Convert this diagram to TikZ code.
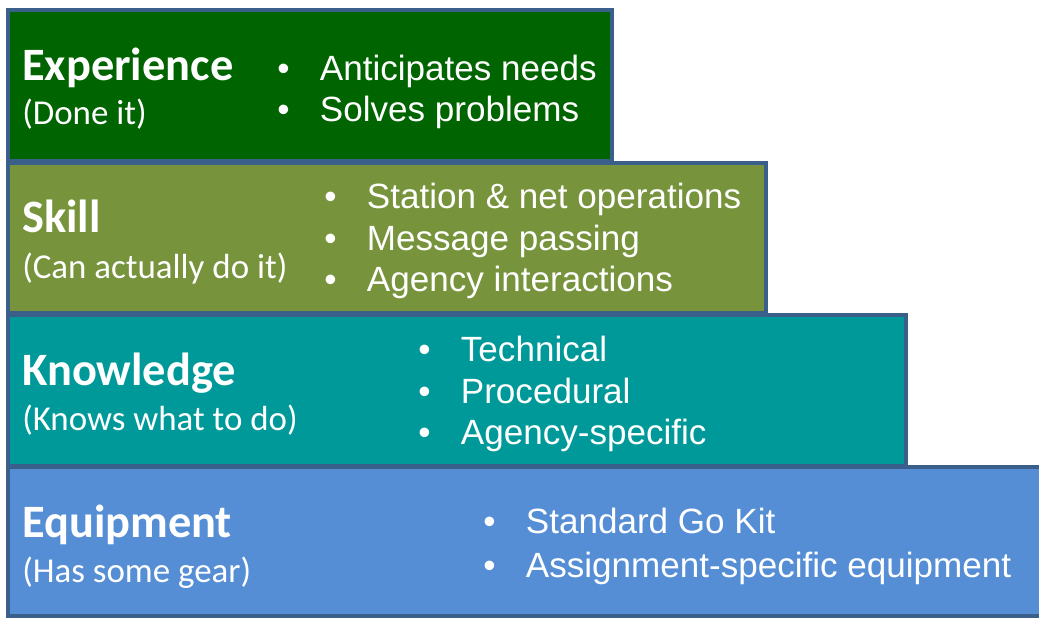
\documentclass[tikz,border=0pt]{standalone}
\usepackage{fontspec}
\setmainfont{Liberation Sans}
\newfontfamily\titlefont{Carlito}
\definecolor{edgeblue}{HTML}{3A5F8B}
\definecolor{expgreen}{HTML}{006400}
\definecolor{skillolive}{HTML}{77933C}
\definecolor{knowteal}{HTML}{009999}
\definecolor{equipblue}{HTML}{558ED5}
\tikzset{
  level/.style={draw=edgeblue, line width=2.6pt},
  head/.style={anchor=base west, inner sep=0pt, text=white, font=\titlefont\bfseries\fontsize{34.8}{40}\selectfont},
  sub/.style={anchor=base west, inner sep=0pt, text=white, font=\titlefont\fontsize{26.2}{30}\selectfont},
  item/.style={anchor=base west, inner sep=0pt, text=white, font=\fontsize{26.3}{30}\selectfont},
}
\newcommand{\bul}[1]{\makebox[32pt][l]{\textbullet}#1}

\begin{document}
\begin{tikzpicture}[x=0.75pt,y=-0.75pt]
	\useasboundingbox (0,0) rectangle (1039,618);
	% the four levels, top to bottom
	\draw[level, fill=expgreen] (8,10) rectangle (612,161);
	\draw[level, fill=skillolive] (8,163) rectangle (766,313);
	\draw[level, fill=knowteal] (8,315) rectangle (906,466);
	\draw[level, fill=equipblue] (8,467) rectangle (1060,616);
	% Experience
	\node[head] (exp) at (22,80) {Experience};
	\node[sub] (expsub) at (22,124) {(Done it)};
	\node[item] (exp1) at (277,80) {\bul{Anticipates needs}};
	\node[item] (exp2) at (277,121) {\bul{Solves problems}};
	% Skill
	\node[head] (skl) at (22,232) {Skill};
	\node[sub] (sklsub) at (22,278) {(Can actually do it)};
	\node[item] (skl1) at (324,208) {\bul{Station \& net operations}};
	\node[item] (skl2) at (324,250) {\bul{Message passing}};
	\node[item] (skl3) at (324,291) {\bul{Agency interactions}};
	% Knowledge
	\node[head] (know) at (22,385) {Knowledge};
	\node[sub] (knowsub) at (22,430) {(Knows what to do)};
	\node[item] (know1) at (418,361) {\bul{Technical}};
	\node[item] (know2) at (418,403) {\bul{Procedural}};
	\node[item] (know3) at (418,444) {\bul{Agency-specific}};
	% Equipment
	\node[head] (equ) at (22,537) {Equipment};
	\node[sub] (equsub) at (22,582) {(Has some gear)};
	\node[item] (equ1) at (483,533) {\bul{Standard Go Kit}};
	\node[item] (equ2) at (483,577) {\bul{Assignment-specific equipment}};
\end{tikzpicture}
\end{document}
